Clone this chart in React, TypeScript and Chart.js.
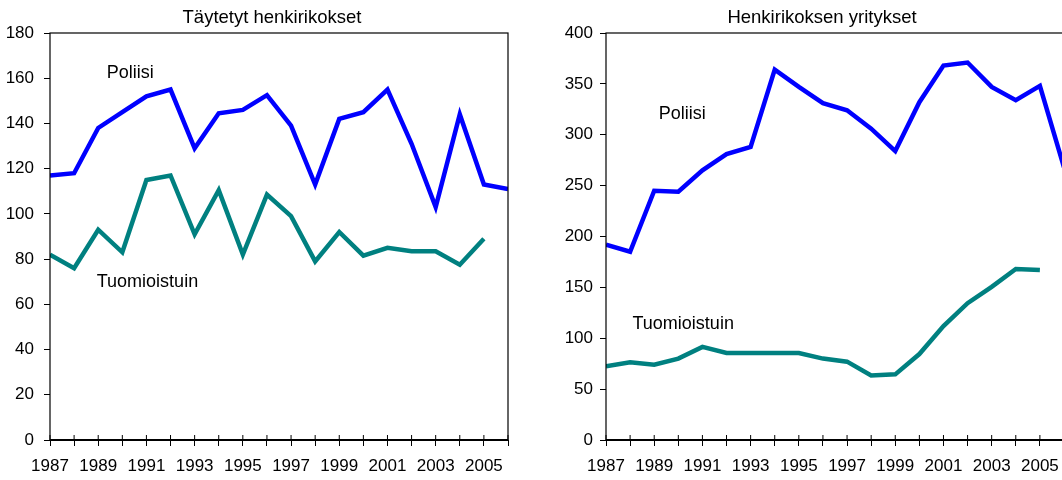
import React, { useEffect, useRef } from "react";
import { Chart, registerables } from "chart.js";

Chart.register(...registerables);

// ---- Data ----
const years = [
  "1987", "1988", "1989", "1990", "1991", "1992", "1993", "1994", "1995", "1996",
  "1997", "1998", "1999", "2000", "2001", "2002", "2003", "2004", "2005", "2006",
];
const labeledYears = ["1987", "1989", "1991", "1993", "1995", "1997", "1999", "2001", "2003", "2005"];

// Täytetyt henkirikokset
const leftPoliisi = [117, 118, 138, 145, 152, 155, 129, 144.5, 146, 152.5, 139, 113, 142, 145, 155, 131, 103, 144, 113, 111];
const leftTuomioistuin = [82, 76, 93, 83, 115, 117, 91, 110.5, 82, 108.5, 99, 79, 92, 81.5, 85, 83.5, 83.5, 77.5, 89, null];

// Henkirikoksen yritykset
const rightPoliisi = [192, 185, 245, 244, 265, 281, 288, 364, 347, 331, 324, 306, 284, 332, 368, 371, 347, 334, 348, 268];
const rightTuomioistuin = [72.5, 76.5, 74, 80, 91.5, 85.5, 85.5, 85.5, 85.5, 80, 77, 63.5, 64.5, 84.5, 112, 134.5, 150.5, 168, 167, null];

const leftTitle = "Täytetyt henkirikokset";
const rightTitle = "Henkirikoksen yritykset";
const seriesNames = ["Poliisi", "Tuomioistuin"];

// ---- Styles / layout ----
const BLUE = "#0000FF";
const TEAL = "#008080";
const FONT = '"Liberation Sans", Arial, sans-serif';
const TICK_SIZE = 17;
const TITLE_SIZE = 18.5;
const NOTE_SIZE = 18;
const LINE_WIDTH = 4.5;

type Note = { text: string; x: number; y: number };

type PanelProps = {
  title: string;
  titleX: number;
  poliisi: (number | null)[];
  tuomio: (number | null)[];
  yMax: number;
  yStep: number;
  notes: Note[];
  left: number;
  width: number;
  padRight: number;
  yWidth: number;
  yPad: number;
};

const decorPlugin = {
  id: "decor",
  afterDatasetsDraw(chart: any, _args: any, opts: any) {
    const { ctx, chartArea: a } = chart;
    ctx.save();
    ctx.strokeStyle = "#000";
    ctx.lineWidth = 1.2;
    ctx.strokeRect(a.left, a.top, a.right - a.left, a.bottom - a.top);
    ctx.lineWidth = 1.8;
    ctx.beginPath();
    ctx.moveTo(a.left, a.bottom);
    ctx.lineTo(a.right, a.bottom);
    ctx.stroke();
    const xs = chart.scales.x;
    ctx.lineWidth = 1;
    ctx.beginPath();
    for (let i = 0; i < xs.ticks.length; i++) {
      const px = xs.getPixelForTick(i);
      ctx.moveTo(px, a.bottom - 5);
      ctx.lineTo(px, a.bottom);
    }
    ctx.stroke();
    // annotations
    const ys = chart.scales.y;
    ctx.fillStyle = "#000";
    ctx.font = `${NOTE_SIZE}px ${FONT}`;
    ctx.textAlign = "left";
    ctx.textBaseline = "alphabetic";
    (opts.notes || []).forEach((n: Note) => {
      ctx.fillText(n.text, xs.getPixelForValue(n.x), ys.getPixelForValue(n.y));
    });
    // title
    ctx.font = `${TITLE_SIZE}px ${FONT}`;
    ctx.textAlign = "center";
    ctx.fillText(opts.title, opts.titleX, 23);
    ctx.restore();
  },
};

function Panel(p: PanelProps) {
  const ref = useRef<HTMLCanvasElement>(null);
  useEffect(() => {
    if (!ref.current) return;
    const chart = new Chart(ref.current, {
      type: "line",
      data: {
        labels: years,
        datasets: [
          {
            label: seriesNames[0],
            data: p.poliisi,
            borderColor: BLUE,
            backgroundColor: BLUE,
            borderWidth: LINE_WIDTH,
            pointRadius: 0,
            tension: 0,
            clip: 0,
          },
          {
            label: seriesNames[1],
            data: p.tuomio,
            borderColor: TEAL,
            backgroundColor: TEAL,
            borderWidth: LINE_WIDTH,
            pointRadius: 0,
            tension: 0,
            clip: 0,
          },
        ],
      },
      options: {
        animation: false,
        responsive: false,
        devicePixelRatio: 1,
        events: [],
        layout: { padding: { left: 0, right: p.padRight, top: 33, bottom: 0 } },
        plugins: {
          legend: { display: false },
          tooltip: { enabled: false },
          title: { display: false },
          decor: { notes: p.notes, title: p.title, titleX: p.titleX },
        } as any,
        scales: {
          x: {
            type: "category",
            offset: false,
            border: { display: false },
            grid: {
              display: true,
              drawOnChartArea: false,
              drawTicks: true,
              tickLength: 6,
              color: "#000",
              lineWidth: 1,
            },
            ticks: {
              autoSkip: false,
              maxRotation: 0,
              minRotation: 0,
              padding: 10,
              color: "#000",
              font: { family: FONT, size: TICK_SIZE },
              callback: (_v: any, i: number) => (labeledYears.includes(years[i]) ? years[i] : ""),
            },
            afterFit: (s: any) => {
              s.height = 40;
            },
          },
          y: {
            min: 0,
            max: p.yMax,
            border: { display: false },
            grid: {
              display: true,
              drawOnChartArea: false,
              drawTicks: true,
              tickLength: 6,
              color: "#000",
              lineWidth: 1,
            },
            ticks: {
              stepSize: p.yStep,
              padding: p.yPad,
              color: "#000",
              font: { family: FONT, size: TICK_SIZE },
            },
            afterFit: (s: any) => {
              s.width = p.yWidth;
            },
          },
        } as any,
      },
      plugins: [decorPlugin],
    });
    return () => chart.destroy();
  }, []);
  return (
    <canvas
      ref={ref}
      width={p.width}
      height={480}
      style={{ position: "absolute", left: p.left, top: 0, width: p.width, height: 480 }}
    />
  );
}

export default function App() {
  return (
    <div
      style={{
        position: "fixed",
        left: 0,
        top: 0,
        width: 1062,
        height: 480,
        overflow: "hidden",
        background: "#fff",
      }}
    >
      <Panel
        title={leftTitle}
        titleX={272}
        poliisi={leftPoliisi}
        tuomio={leftTuomioistuin}
        yMax={180}
        yStep={20}
        notes={[
          { text: seriesNames[0], x: 2.35, y: 160 },
          { text: seriesNames[1], x: 1.94, y: 67.8 },
        ]}
        left={0}
        width={528}
        padRight={20}
        yWidth={50}
        yPad={10}
      />
      <Panel
        title={rightTitle}
        titleX={266}
        poliisi={rightPoliisi}
        tuomio={rightTuomioistuin}
        yMax={400}
        yStep={50}
        notes={[
          { text: seriesNames[0], x: 2.19, y: 315 },
          { text: seriesNames[1], x: 1.1, y: 108.6 },
        ]}
        left={556}
        width={540}
        padRight={32}
        yWidth={50}
        yPad={7}
      />
    </div>
  );
}
